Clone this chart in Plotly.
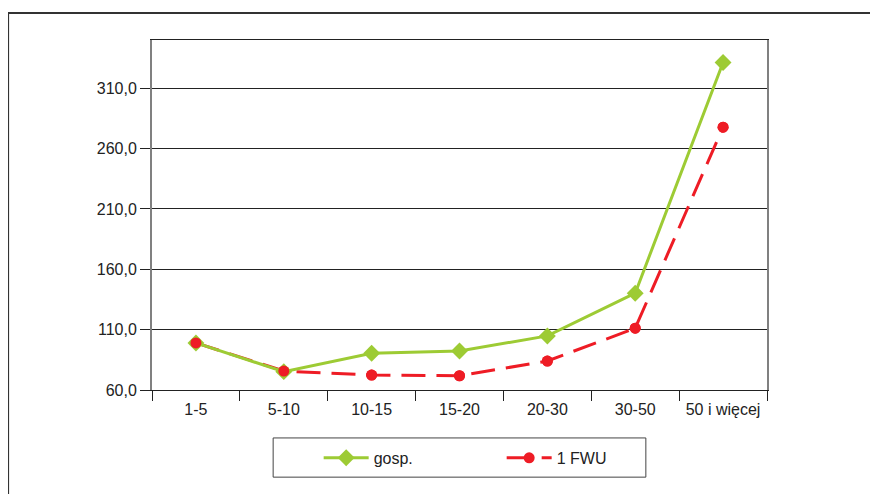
import plotly.graph_objects as go

categories = ["1-5", "5-10", "10-15", "15-20", "20-30", "30-50", "50 i więcej"]
gosp = [99.0, 75.2, 90.4, 92.3, 104.8, 140.2, 331.4]
fwu = [99.0, 75.7, 72.4, 71.8, 84.0, 111.2, 277.8]
y_ticks = [60, 110, 160, 210, 260, 310]
y_tick_labels = ["60,0", "110,0", "160,0", "210,0", "260,0", "310,0"]

GREEN = "#9dcb34"
RED = "#ee1c25"

fig = go.Figure()
fig.add_trace(go.Scatter(
    x=categories, y=fwu, name="1 FWU", mode="lines+markers", legendrank=2,
    line=dict(color=RED, width=3, dash="24px,11px"),
    marker=dict(symbol="circle", size=11, color=RED),
))
fig.add_trace(go.Scatter(
    x=categories, y=gosp, name="gosp.", mode="lines+markers", legendrank=1,
    line=dict(color=GREEN, width=3),
    marker=dict(symbol="diamond", size=13, color=GREEN),
))
fig.add_trace(go.Scatter(
    x=categories, y=fwu, name="1 FWU", mode="markers", showlegend=False,
    marker=dict(symbol="circle", size=11, color=RED), hoverinfo="skip",
))

# figure is offset by the 8px page margin: screen = figure + 8
fig.update_layout(
    width=870, height=486,
    margin=dict(l=144, r=111, t=32, b=104),
    paper_bgcolor="white", plot_bgcolor="white",
    font=dict(family="Liberation Sans, Arial, sans-serif", size=16, color="#222"),
    showlegend=True,
    legend=dict(
        orientation="h", x=0.271, y=-0.194, xanchor="left", yanchor="middle",
        borderwidth=0, entrywidth=123, entrywidthmode="pixels",
        font=dict(size=16), itemwidth=45, bgcolor="rgba(0,0,0,0)",
    ),
    xaxis=dict(
        type="category", showgrid=False, showline=True, linecolor="#222", linewidth=1,
        mirror=True, ticks="outside", ticklen=10, tickcolor="#222", tickson="boundaries",
        tickfont=dict(size=16), range=[-0.5, 6.5], ticklabelstandoff=5,
    ),
    yaxis=dict(
        range=[60, 350], tickvals=y_ticks, ticktext=y_tick_labels,
        showgrid=True, gridcolor="#222", gridwidth=1,
        showline=True, linecolor="#808080", linewidth=2, mirror=True,
        ticks="outside", ticklen=10, tickcolor="#222", zeroline=False,
        tickfont=dict(size=16),
    ),
    shapes=[
        dict(type="rect", xref="paper", yref="paper",
             x0=-0.234, y0=-1.0, x1=2.0, y1=1.077,
             line=dict(color="#333", width=2), layer="below"),
        dict(type="rect", xref="paper", yref="paper",
             x0=0.197, y0=-0.249, x1=0.803, y1=-0.137,
             line=dict(color="#444", width=1), layer="below"),
    ],
)

fig.write_html("out.html")
